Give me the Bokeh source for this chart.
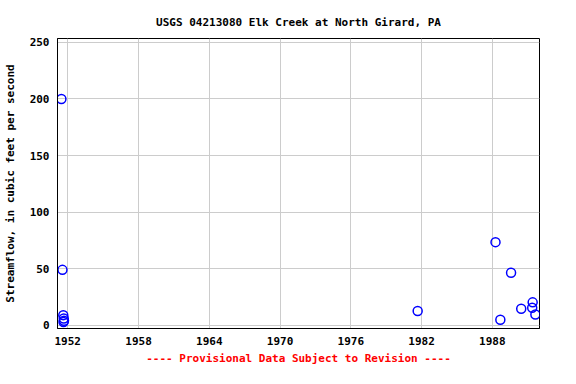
from bokeh.plotting import figure
from bokeh.models import Range1d, FixedTicker, Title, CustomJSTickFormatter
from bokeh.embed import file_html
from bokeh.resources import INLINE

# Data (decimal year, streamflow cfs)
years = [1951.46, 1951.55, 1951.62, 1951.66, 1951.68, 1951.64,
         1981.67, 1988.27, 1988.68, 1989.59, 1990.45, 1991.42, 1991.38, 1991.65]
flows = [200, 49, 9, 6, 4, 3,
         12.7, 73.5, 5, 46.5, 14.6, 20.3, 15.5, 9.6]

x_ticks = [1952, 1958, 1964, 1970, 1976, 1982, 1988]
y_ticks = [0, 50, 100, 150, 200, 250]

FONT = "DejaVu Sans Mono"

p = figure(width=560, height=368, output_backend="svg", toolbar_location=None,
           x_range=Range1d(1951.13, 1992.0), y_range=Range1d(-2.8, 253.4),
           min_border_left=57, min_border_right=21, min_border_top=38, min_border_bottom=40,
           border_fill_color="white")

p.title.text = "USGS 04213080 Elk Creek at North Girard, PA"
p.title.align = "center"
p.title.text_font = FONT
p.title.text_font_size = "11px"
p.title.text_font_style = "bold"
p.title.text_color = "black"
p.title.standoff = 20

p.scatter(years, flows, marker="circle", size=9, fill_color=None,
          line_color="#0000ff", line_width=1.5)

p.outline_line_color = "black"
p.outline_line_width = 1
p.background_fill_color = "white"

for ax in (p.xaxis[0], p.yaxis[0]):
    ax.major_tick_in = 0
    ax.major_tick_out = 0
    ax.minor_tick_in = 0
    ax.minor_tick_out = 0
    ax.axis_line_color = "black"
    ax.major_label_text_font = FONT
    ax.major_label_text_font_size = "11px"
    ax.major_label_text_font_style = "bold"
    ax.major_label_text_color = "black"
    ax.major_label_standoff = 8

p.xaxis[0].ticker = FixedTicker(ticks=x_ticks)
p.yaxis[0].ticker = FixedTicker(ticks=y_ticks)
p.xaxis[0].formatter = CustomJSTickFormatter(code="return tick.toFixed(0);")

p.yaxis[0].axis_label = "Streamflow, in cubic feet per second"
p.yaxis[0].axis_label_text_font = FONT
p.yaxis[0].axis_label_text_font_size = "11px"
p.yaxis[0].axis_label_text_font_style = "bold"
p.yaxis[0].axis_label_text_color = "black"
p.yaxis[0].axis_label_standoff = 10

p.xgrid.grid_line_color = "#cccccc"
p.ygrid.grid_line_color = "#cccccc"

footer = Title(text="---- Provisional Data Subject to Revision ----", align="center",
               text_color="#ff0000", text_font=FONT, text_font_size="11px",
               text_font_style="bold", standoff=4)
p.add_layout(footer, "below")

open("out.html", "w").write(file_html(p, INLINE))
